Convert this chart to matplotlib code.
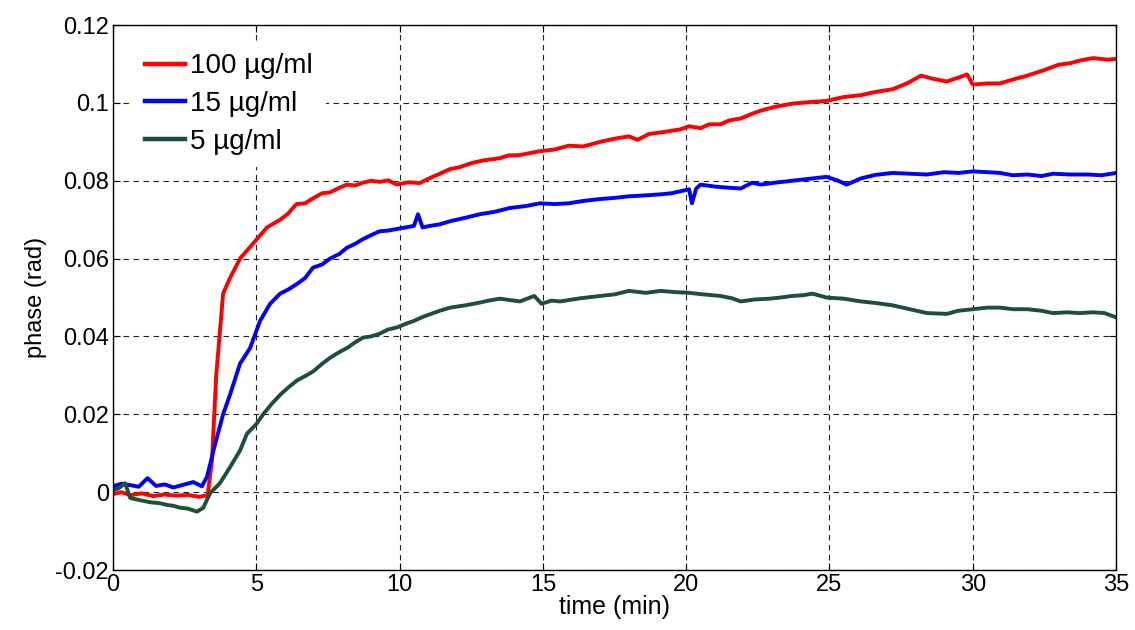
import matplotlib
matplotlib.use("Agg")
import matplotlib.pyplot as plt

# ---- data ----
t_100 = [0, 0.3, 0.6, 1.0, 1.4, 1.8, 2.2, 2.6, 3.0, 3.3, 3.45, 3.6, 3.84, 4.08, 4.43,
         4.9, 5.37, 5.83, 6.1, 6.4, 6.7, 6.98, 7.3, 7.57, 7.9, 8.16, 8.45, 8.72, 9.0, 9.3,
         9.6, 9.9, 10.3, 10.7, 11.06, 11.4, 11.76, 12.1, 12.5, 12.9, 13.5, 13.8, 14.2,
         14.9, 15.4, 15.9, 16.4, 17.0, 17.5, 18.0, 18.3, 18.7, 19.2, 19.8, 20.1, 20.5,
         20.8, 21.2, 21.5, 21.9, 22.3, 22.6, 23.1, 23.7, 24.3, 24.9, 25.5, 26.1, 26.6,
         27.2, 27.7, 28.2, 28.6, 29.1, 29.5, 29.8, 30.0, 30.5, 30.95, 31.4, 31.9, 32.4,
         33.0, 33.4, 33.8, 34.2, 34.7, 35.0]
p_100 = [-0.0005, 0.0000, -0.0008, -0.0003, -0.0010, -0.0006, -0.0009, -0.0007, -0.0012,
         -0.0008, 0.008, 0.030, 0.051, 0.055, 0.060, 0.064, 0.068, 0.070, 0.0715, 0.074,
         0.0742, 0.0755, 0.0768, 0.077, 0.0782, 0.079, 0.0788, 0.0795, 0.0800, 0.0797,
         0.0801, 0.0790, 0.0796, 0.0794, 0.0807, 0.0818, 0.083, 0.0835, 0.0845, 0.0852,
         0.0858, 0.0865, 0.0866, 0.0876, 0.0880, 0.0890, 0.0888, 0.0900, 0.0908, 0.0914,
         0.0905, 0.0920, 0.0925, 0.0932, 0.0940, 0.0935, 0.0945, 0.0945, 0.0955, 0.0960,
         0.0972, 0.0980, 0.0990, 0.0998, 0.1002, 0.1005, 0.1015, 0.1020, 0.1028, 0.1035,
         0.1050, 0.1070, 0.1062, 0.1055, 0.1065, 0.1073, 0.1047, 0.1050, 0.1050, 0.1060,
         0.1070, 0.1082, 0.1098, 0.1102, 0.1110, 0.1115, 0.1111, 0.1113]

t_15 = [0, 0.3, 0.6, 0.9, 1.2, 1.5, 1.8, 2.1, 2.4, 2.8, 3.1, 3.28, 3.55, 3.84, 4.08,
        4.43, 4.78, 5.13, 5.48, 5.83, 6.1, 6.42, 6.7, 6.98, 7.3, 7.57, 7.9, 8.16, 8.45,
        8.72, 9.0, 9.3, 9.6, 9.9, 10.2, 10.5, 10.64, 10.8, 11.06, 11.4, 11.76, 12.3, 12.8,
        13.3, 13.85, 14.4, 14.9, 15.4, 15.9, 16.4, 17.0, 17.5, 18.0, 18.5, 19.1, 19.5,
        19.8, 20.1, 20.2, 20.35, 20.5, 21.0, 21.5, 21.9, 22.3, 22.6, 23.1, 23.7, 24.3,
        24.9, 25.3, 25.6, 26.1, 26.6, 27.2, 27.8, 28.4, 29.0, 29.5, 30.0, 30.5, 30.95,
        31.4, 31.9, 32.4, 32.8, 33.4, 34.0, 34.5, 35.0]
p_15 = [0.0015, 0.0022, 0.0018, 0.0014, 0.0036, 0.0016, 0.0020, 0.0012, 0.0018, 0.0026,
        0.0015, 0.0040, 0.0120, 0.0200, 0.0250, 0.0330, 0.0370, 0.0440, 0.0484, 0.0510,
        0.0520, 0.0535, 0.0550, 0.0577, 0.0585, 0.0600, 0.0612, 0.0628, 0.0638, 0.0650,
        0.0660, 0.0670, 0.0672, 0.0676, 0.0680, 0.0684, 0.0714, 0.0680, 0.0684, 0.0688,
        0.0696, 0.0705, 0.0714, 0.0720, 0.0730, 0.0735, 0.0742, 0.0740, 0.0742, 0.0748,
        0.0753, 0.0756, 0.0760, 0.0762, 0.0765, 0.0768, 0.0773, 0.0778, 0.0742, 0.0780,
        0.0790, 0.0785, 0.0782, 0.0780, 0.0795, 0.0790, 0.0795, 0.0800, 0.0805, 0.0810,
        0.0800, 0.0790, 0.0806, 0.0815, 0.0820, 0.0818, 0.0816, 0.0822, 0.0820, 0.0824,
        0.0822, 0.0820, 0.0814, 0.0816, 0.0812, 0.0818, 0.0816, 0.0816, 0.0814, 0.0820]

t_5 = [0, 0.2, 0.42, 0.6, 0.9, 1.3, 1.6, 1.9, 2.1, 2.34, 2.6, 2.93, 3.15, 3.38, 3.73,
       4.08, 4.43, 4.67, 5.0, 5.24, 5.55, 5.83, 6.1, 6.42, 6.7, 6.98, 7.3, 7.57, 7.9,
       8.16, 8.45, 8.72, 9.0, 9.3, 9.6, 9.9, 10.2, 10.5, 10.8, 11.1, 11.4, 11.76, 12.3,
       12.8, 13.1, 13.5, 14.2, 14.7, 14.95, 15.3, 15.6, 16.3, 17.0, 17.5, 18.0, 18.6,
       19.1, 19.6, 20.1, 20.6, 21.2, 21.6, 21.9, 22.4, 22.9, 23.3, 23.7, 24.1, 24.4,
       24.9, 25.5, 26.1, 26.6, 27.2, 27.8, 28.4, 29.1, 29.5, 30.0, 30.5, 30.95, 31.4,
       31.9, 32.4, 32.8, 33.3, 33.7, 34.2, 34.6, 35.0]
p_5 = [0.0005, 0.0010, 0.0023, -0.0015, -0.0020, -0.0026, -0.0028, -0.0033, -0.0035,
       -0.0040, -0.0042, -0.0050, -0.0040, -0.0003, 0.0023, 0.0064, 0.0107, 0.0150,
       0.0175, 0.0200, 0.0228, 0.0250, 0.0268, 0.0287, 0.0298, 0.0310, 0.0330, 0.0345,
       0.0360, 0.0370, 0.0385, 0.0397, 0.0400, 0.0407, 0.0418, 0.0423, 0.0432, 0.0440,
       0.0450, 0.0458, 0.0466, 0.0474, 0.0480, 0.0487, 0.0492, 0.0497, 0.0490, 0.0504,
       0.0484, 0.0492, 0.0490, 0.0498, 0.0504, 0.0508, 0.0517, 0.0512, 0.0517, 0.0514,
       0.0512, 0.0508, 0.0504, 0.0498, 0.0490, 0.0495, 0.0497, 0.0500, 0.0504, 0.0506,
       0.0510, 0.0500, 0.0497, 0.0490, 0.0486, 0.0480, 0.0470, 0.0460, 0.0458, 0.0466,
       0.0470, 0.0474, 0.0474, 0.0470, 0.0470, 0.0466, 0.0460, 0.0462, 0.0460, 0.0462,
       0.0460, 0.0449]

series_labels = ["100 \u00b5g/ml", "15 \u00b5g/ml", "5 \u00b5g/ml"]
series_colors = ["#ff0000", "#0000ff", "#1d5036"]
x_ticks = [0, 5, 10, 15, 20, 25, 30, 35]
y_ticks = [-0.02, 0, 0.02, 0.04, 0.06, 0.08, 0.1, 0.12]
y_tick_labels = ["-0.02", "0", "0.02", "0.04", "0.06", "0.08", "0.1", "0.12"]

plt.rcParams['font.family'] = ['Liberation Sans', 'DejaVu Sans']

fig = plt.figure(figsize=(11.35, 6.3), dpi=100)
ax = fig.add_axes([0.0996, 0.0952, 0.8837, 0.8651])

for t, p, lab, c in zip([t_100, t_15, t_5], [p_100, p_15, p_5], series_labels, series_colors):
    ax.plot(t, p, color=c, lw=2.8, label=lab, solid_joinstyle='round')

ax.set_xlim(0, 35)
ax.set_ylim(-0.02, 0.12)
ax.set_xticks(x_ticks)
ax.set_yticks(y_ticks)
ax.set_yticklabels(y_tick_labels)
ax.tick_params(direction='in', length=5, width=0.8, labelsize=17, top=True, right=True, pad=3)
ax.grid(True, color='#222222', linestyle=(0, (5, 4)), linewidth=0.8)
ax.set_axisbelow(True)
for s in ax.spines.values():
    s.set_linewidth(1.0)

ax.set_xlabel("time (min)", fontsize=18, labelpad=-1)
ax.set_ylabel("phase (rad)", fontsize=17, labelpad=6)

leg = ax.legend(loc='upper left', frameon=True, fancybox=False, fontsize=20,
                handlelength=1.45, handletextpad=0.2, labelspacing=0.42,
                borderaxespad=0, borderpad=0.45, framealpha=1.0,
                facecolor='white', edgecolor='none',
                bbox_to_anchor=(0.019, 0.971))
for h in leg.get_lines():
    h.set_linewidth(3.2)

fig.savefig("out.png", dpi=100)
